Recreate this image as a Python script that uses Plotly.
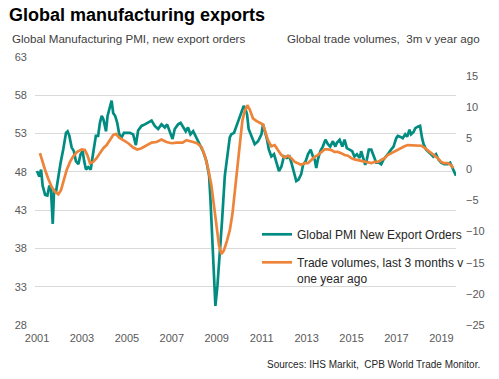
import plotly.graph_objects as go

# ---- Data ----
pmi_dates = [
    2001.00, 2001.10, 2001.18, 2001.25, 2001.36, 2001.46, 2001.55, 2001.62, 2001.70, 2001.76,
    2001.84, 2001.95, 2002.05, 2002.17, 2002.29, 2002.36, 2002.44, 2002.54, 2002.64, 2002.73,
    2002.84, 2002.94, 2003.03, 2003.10, 2003.18, 2003.28, 2003.39, 2003.48, 2003.55, 2003.62,
    2003.72, 2003.80, 2003.88, 2003.95, 2004.02, 2004.07, 2004.14, 2004.24, 2004.32, 2004.39,
    2004.48, 2004.57, 2004.66, 2004.76, 2004.87, 2004.99, 2005.13, 2005.28, 2005.40, 2005.50,
    2005.65, 2005.80, 2005.95, 2006.10, 2006.24, 2006.39, 2006.54, 2006.69, 2006.79, 2006.91,
    2007.03, 2007.13, 2007.28, 2007.39, 2007.50, 2007.62, 2007.72, 2007.83, 2007.95, 2008.10,
    2008.24, 2008.39, 2008.54, 2008.66, 2008.72, 2008.79, 2008.87, 2008.94, 2009.03, 2009.13,
    2009.24, 2009.36, 2009.48, 2009.58, 2009.65, 2009.77, 2009.88, 2009.99, 2010.10, 2010.20,
    2010.28, 2010.35, 2010.42, 2010.59, 2010.69, 2010.84, 2010.99, 2011.06, 2011.13, 2011.24,
    2011.32, 2011.43, 2011.55, 2011.65, 2011.77, 2011.88, 2011.99, 2012.12, 2012.24, 2012.35,
    2012.44, 2012.54, 2012.64, 2012.76, 2012.84, 2012.96, 2013.06, 2013.18, 2013.28, 2013.36,
    2013.43, 2013.50, 2013.61, 2013.72, 2013.84, 2013.95, 2014.05, 2014.17, 2014.28, 2014.35,
    2014.47, 2014.59, 2014.69, 2014.79, 2014.91, 2015.03, 2015.13, 2015.24, 2015.36, 2015.43,
    2015.50, 2015.61, 2015.68, 2015.77, 2015.88, 2015.98, 2016.10, 2016.21, 2016.32, 2016.42,
    2016.54, 2016.66, 2016.76, 2016.87, 2016.99, 2017.06, 2017.16, 2017.28, 2017.39, 2017.48,
    2017.58, 2017.65, 2017.76, 2017.84, 2017.95, 2018.05, 2018.14, 2018.21, 2018.32, 2018.44,
    2018.54, 2018.64, 2018.76, 2018.87, 2018.99, 2019.13, 2019.28, 2019.39, 2019.47, 2019.58,
    2019.65,
]
pmi_values = [
    48.1, 47.4, 48.3, 46.2, 45.0, 44.9, 46.2, 45.7, 41.2, 45.7,
    45.3, 47.5, 49.2, 51.0, 53.1, 53.3, 52.7, 51.2, 50.7, 49.4,
    49.0, 50.3, 50.7, 49.4, 48.3, 48.6, 48.3, 50.1, 51.4, 52.7,
    52.7, 54.4, 55.3, 54.9, 54.0, 53.3, 55.3, 56.4, 57.3, 55.7,
    55.3, 54.4, 52.9, 52.5, 53.1, 53.1, 53.1, 52.9, 51.5, 53.4,
    54.0, 54.2, 54.4, 54.7, 54.0, 53.6, 54.2, 53.8, 54.2, 53.3,
    52.3, 53.6, 54.2, 54.4, 53.8, 53.3, 53.8, 52.9, 53.3, 52.4,
    51.4, 50.7, 49.4, 47.5, 44.4, 39.7, 34.4, 30.5, 33.1, 37.0,
    41.8, 47.5, 50.1, 52.5, 52.9, 53.1, 54.0, 54.9, 56.0, 56.6,
    56.2, 55.5, 53.6, 52.2, 51.6, 52.0, 52.9, 54.2, 53.5, 52.2,
    50.9, 50.0, 50.3, 49.4, 48.1, 48.7, 50.0, 49.8, 50.0, 48.9,
    47.7, 46.8, 47.0, 47.7, 48.9, 49.4, 50.3, 50.9, 50.0, 49.6,
    48.5, 49.6, 50.7, 51.3, 52.2, 51.6, 51.3, 52.0, 51.3, 51.8,
    52.2, 51.3, 52.2, 51.1, 50.9, 50.7, 50.0, 50.3, 49.8, 50.7,
    50.0, 48.9, 49.6, 50.9, 50.9, 50.0, 49.2, 49.2, 49.0, 49.6,
    50.0, 50.5, 50.9, 51.3, 52.4, 52.7, 52.6, 52.4, 52.9, 52.6,
    53.5, 52.9, 53.2, 53.7, 53.9, 54.0, 52.4, 51.6, 50.9, 50.5,
    50.3, 50.0, 50.3, 49.6, 49.2, 49.0, 49.0, 49.2, 48.7, 48.1,
    47.5,
]

trade_dates = [
    2001.13, 2001.21, 2001.36, 2001.50, 2001.65, 2001.80, 2001.95, 2002.07, 2002.17, 2002.32,
    2002.47, 2002.61, 2002.79, 2002.99, 2003.13, 2003.24, 2003.36, 2003.50, 2003.65, 2003.80,
    2003.95, 2004.10, 2004.24, 2004.39, 2004.51, 2004.66, 2004.84, 2005.06, 2005.28, 2005.46,
    2005.65, 2005.88, 2006.10, 2006.32, 2006.54, 2006.76, 2006.99, 2007.21, 2007.48, 2007.65,
    2007.80, 2007.95, 2008.12, 2008.32, 2008.47, 2008.61, 2008.76, 2008.88, 2008.99, 2009.10,
    2009.21, 2009.32, 2009.46, 2009.58, 2009.70, 2009.80, 2009.90, 2010.02, 2010.14, 2010.24,
    2010.36, 2010.47, 2010.61, 2010.76, 2010.94, 2011.06, 2011.18, 2011.28, 2011.43, 2011.58,
    2011.72, 2011.88, 2012.02, 2012.17, 2012.32, 2012.47, 2012.61, 2012.76, 2012.91, 2013.06,
    2013.21, 2013.36, 2013.50, 2013.65, 2013.80, 2013.95, 2014.10, 2014.24, 2014.39, 2014.54,
    2014.69, 2014.84, 2014.99, 2015.13, 2015.28, 2015.43, 2015.58, 2015.72, 2015.88, 2016.02,
    2016.17, 2016.32, 2016.47, 2016.61, 2016.76, 2016.91, 2017.06, 2017.21, 2017.36, 2017.50,
    2017.65, 2017.80, 2017.95, 2018.10, 2018.24, 2018.39, 2018.54, 2018.69, 2018.84, 2018.99,
    2019.13, 2019.28, 2019.43, 2019.53,
]
trade_values = [
    2.6, 1.5, -0.1, -1.5, -2.8, -3.6, -4.0, -3.3, -2.0, -0.1,
    1.2, 2.1, 2.8, 3.2, 3.1, 2.3, 1.0, 1.2, 1.8, 2.6,
    3.4, 3.9, 4.7, 5.5, 5.7, 5.1, 4.7, 4.2, 3.5, 3.2,
    3.4, 3.9, 4.3, 4.4, 4.8, 4.4, 4.2, 4.3, 4.3, 4.7,
    4.6, 4.4, 4.2, 3.6, 2.2, 0.2, -2.5, -6.0, -9.2, -12.2,
    -13.6, -13.0, -11.4, -9.8, -7.1, -3.8, 0.5, 4.5, 7.8, 9.3,
    10.3, 9.6, 8.2, 7.8, 7.5, 7.2, 5.8, 4.7, 3.7, 3.9,
    3.1, 2.3, 1.9, 2.2, 1.8, 1.2, 1.0, 0.7, 1.0, 1.0,
    1.5, 2.0, 2.3, 2.8, 3.2, 3.2, 3.1, 2.8, 2.8, 2.6,
    2.3, 2.2, 1.8, 1.6, 1.5, 1.3, 1.2, 1.1, 1.0, 1.2,
    1.2, 1.5, 1.8, 2.3, 2.6, 2.8, 3.1, 3.4, 3.7, 3.9,
    3.9, 3.9, 3.8, 3.8, 3.5, 3.1, 2.7, 2.3, 1.8, 1.2,
    1.0, 1.0, 0.7, 0.2,
]

year_ticks = [2001, 2003, 2005, 2007, 2009, 2011, 2013, 2015, 2017, 2019]
year_labels = [str(y) for y in year_ticks]
pmi_ticks = [28, 33, 38, 43, 48, 53, 58, 63]
trade_ticks = [-25, -20, -15, -10, -5, 0, 5, 10, 15]

TEAL = "#008C80"
ORANGE = "#EE8439"
FONT = "Liberation Sans, Arial, sans-serif"

fig = go.Figure()
fig.add_trace(go.Scatter(
    x=pmi_dates, y=pmi_values, mode="lines", name="Global PMI New Export Orders",
    line=dict(color=TEAL, width=2.7), legendgroup="a", yaxis="y",
))
fig.add_trace(go.Scatter(
    x=trade_dates, y=trade_values, mode="lines",
    name="Trade volumes, last 3 months v<br>one year ago",
    line=dict(color=ORANGE, width=2.7), legendgroup="b", yaxis="y2",
))

W, H = 499, 379
L, R, T, B = 35, 43, 57, 54
ph = H - T - B


def ypx(y):
    return (H - B - y) / ph


def xpx(x):
    return (x - L) / (W - L - R)


fig.update_layout(
    width=W, height=H,
    margin=dict(l=L, r=R, t=T, b=B, pad=0),
    paper_bgcolor="white", plot_bgcolor="white",
    font=dict(family=FONT, size=11, color="#595959"),
    showlegend=True,
    legend=dict(
        x=xpx(257), y=ypx(220), xanchor="left", yanchor="top",
        bgcolor="rgba(0,0,0,0)", font=dict(size=12, color="#262626", family=FONT),
        traceorder="grouped", tracegroupgap=9, valign="top",
        itemwidth=30,
    ),
    xaxis=dict(
        range=[2000.91, 2019.65], tickvals=year_ticks, ticktext=year_labels,
        showgrid=False, zeroline=False, showline=False, ticks="",
        ticklabelstandoff=5, tickfont=dict(size=11, color="#595959"),
    ),
    yaxis=dict(
        range=[28, 63], tickvals=pmi_ticks, showgrid=True, gridcolor="#D9D9D9",
        gridwidth=1, zeroline=False, showline=False, ticks="",
        ticklabelstandoff=7, tickfont=dict(size=11, color="#595959"),
    ),
    yaxis2=dict(
        range=[-25, 18.05], tickvals=trade_ticks, overlaying="y", side="right",
        showgrid=False, zeroline=False, showline=False, ticks="",
        ticklabelstandoff=9, tickfont=dict(size=11, color="#595959"),
    ),
    annotations=[
        dict(text="<b>Global manufacturing exports</b>", xref="paper", yref="paper",
             x=xpx(7), y=ypx(15), xanchor="left", yanchor="middle", showarrow=False,
             font=dict(size=18, color="#000000", family=FONT)),
        dict(text="Global Manufacturing PMI, new export orders", xref="paper", yref="paper",
             x=xpx(10), y=ypx(38), xanchor="left", yanchor="middle", showarrow=False,
             font=dict(size=11.6, color="#404040", family=FONT)),
        dict(text="Global trade volumes,  3m v year ago", xref="paper", yref="paper",
             x=xpx(482), y=ypx(38), xanchor="right", yanchor="middle", showarrow=False,
             font=dict(size=11.6, color="#404040", family=FONT)),
        dict(text="Sources: IHS Markit,  CPB World Trade Monitor.", xref="paper", yref="paper",
             x=xpx(482), y=ypx(364), xanchor="right", yanchor="middle", showarrow=False,
             font=dict(size=10, color="#262626", family=FONT)),
    ],
)

fig.write_html(
    "out.html",
    config={"displayModeBar": False},
    post_script="document.body.style.margin='0';document.body.style.padding='0';",
)
